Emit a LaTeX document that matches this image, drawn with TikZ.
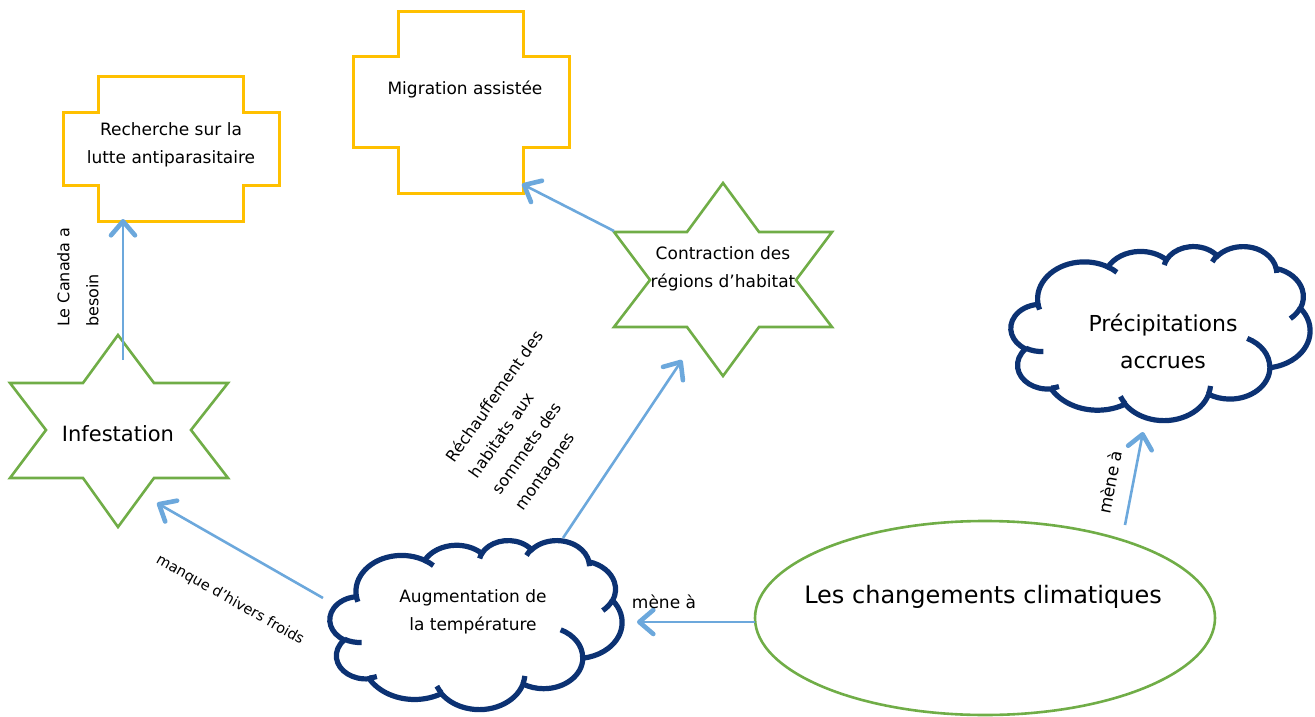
\documentclass[tikz,border=0pt]{standalone}
\usepackage{fontspec}
\setmainfont{DejaVu Sans}
\usetikzlibrary{arrows.meta,shapes.geometric}
\definecolor{crossyellow}{RGB}{255,192,0}
\definecolor{stargreen}{RGB}{112,173,71}
\definecolor{arrowblue}{RGB}{108,168,220}
\definecolor{cloudnavy}{RGB}{12,50,115}
\tikzset{
  declare function={vt(\w,\h,\t)=(\t)+(atan2((\w)*sin(\t),(\h)*cos(\t))-(\t))-360*round((atan2((\w)*sin(\t),(\h)*cos(\t))-(\t))/360);},
  oa/.style n args={4}{insert path={arc[start angle={vt(#1,#2,#3)},end angle={vt(#1,#2,#3+#4)},x radius=#1,y radius=#2]}},
  crossbox/.style={draw=crossyellow, line width=3pt, line join=miter},
  starbox/.style={draw=stargreen, line width=2.6pt, line join=miter},
  cloudline/.style={draw=cloudnavy, line width=5.2pt},
  ellbox/.style={draw=stargreen, line width=2.6pt, ellipse, inner sep=0pt},
  link/.style={draw=arrowblue, line width=2.6pt, -{Straight Barb[length=14pt,width=24pt,line width=4.6pt,round]}},
  txt/.style={align=center, inner sep=0pt, font=\fontsize{17}{28.5}\selectfont},
  lbl/.style={inner sep=0pt, font=\fontsize{17}{29}\selectfont},
}
\newcommand\oocloud[5]{%
  \pgfmathsetmacro\cloudxs{#4/432}%
  \pgfmathsetmacro\cloudys{#5/432}%
  \begin{scope}[shift={(#2,#3)}, x=\cloudxs pt, y=-\cloudys pt]
    \coordinate (#1) at (216,216);
    \draw[cloudline, fill=white] (39.00,143.70)
      [oa={67.53}{91.90}{-190.487}{123.781}]
      [oa={53.33}{72.67}{-144.102}{89.945}]
      [oa={43.65}{59.45}{-145.808}{99.723}]
      [oa={48.57}{65.95}{-130.986}{117.242}]
      [oa={53.33}{72.73}{-78.709}{109.027}]
      [oa={67.75}{92.20}{-46.267}{130.269}]
      [oa={57.85}{78.67}{0.625}{114.033}]
      [oa={67.52}{92.15}{22.452}{115.173}]
      [oa={77.20}{105.43}{66.243}{75.711}]
      [oa={43.60}{59.18}{-274.942}{146.736}]
      [oa={43.45}{59.45}{-246.829}{152.519}] -- cycle;
    \draw[cloudline]
      (46.93,261.77) [oa={43.45}{59.45}{86.742}{26.430}]
      (69.28,348.99) [oa={43.60}{59.18}{73.610}{11.447}]
      (164.78,390.90) [oa={67.52}{92.15}{137.624}{14.081}]
      (288.27,347.51) [oa={67.52}{92.15}{6.453}{15.998}]
      (341.29,229.54) [oa={57.85}{78.67}{-70.292}{70.917}]
      (417.98,153.54) [oa={53.33}{72.73}{30.318}{27.752}]
      (383.24,54.26) [oa={48.57}{65.95}{-13.744}{14.859}]
      (290.78,39.52) [oa={48.57}{65.95}{-149.181}{18.195}]
      (221.41,47.20) [oa={43.65}{59.45}{-163.494}{17.686}]
      (140.00,51.92) [oa={67.53}{91.90}{-66.707}{12.319}]
      (41.27,157.89) [oa={67.53}{91.90}{157.654}{11.858}];
  \end{scope}}
\begin{document}
\begin{tikzpicture}[x=1pt,y=-1pt]
\useasboundingbox (0,0) rectangle (1315,717);

% crosses
\draw[crossbox] (98,77) -- (243,77) -- (243,112) -- (279,112) -- (279,185) -- (243,185)
  -- (243,221) -- (98,221) -- (98,185) -- (63,185) -- (63,112) -- (98,112) -- cycle;
\node[txt] (rech) at (171,145) {Recherche sur la\\lutte antiparasitaire};

\draw[crossbox] (398,12) -- (523,12) -- (523,57) -- (569,57) -- (569,147) -- (523,147)
  -- (523,193) -- (398,193) -- (398,147) -- (353,147) -- (353,57) -- (398,57) -- cycle;
\node[txt] (migr) at (465,89) {Migration assistée};

% stars
\draw[starbox] (118,335) -- (154,383) -- (228,383) -- (191,430) -- (228,478) -- (154,478)
  -- (118,527) -- (83,478) -- (10,478) -- (46,430) -- (10,383) -- (83,383) -- cycle;
\node[txt, font=\fontsize{21}{28}\selectfont] (infest) at (118,434) {Infestation};

\draw[starbox] (723,183) -- (759,232) -- (832,232) -- (796,280) -- (832,327) -- (759,327)
  -- (723,376) -- (687,327) -- (614,327) -- (650,280) -- (614,232) -- (687,232) -- cycle;
\node[txt] (contr) at (723,269) {Contraction des\\régions d’habitat};

% clouds
\oocloud{augm-cloud}{330}{540}{292}{169}
\node[txt] (augm) at (473,612) {Augmentation de\\la température};

\oocloud{precip-cloud}{1011}{246}{299}{174}
\node[txt, font=\fontsize{22}{37}\selectfont] (precip) at (1163,341) {Précipitations\\accrues};

% ellipse
\node[ellbox, minimum width=460pt, minimum height=194pt] (clim-shape) at (985,618) {};
\node[txt, font=\fontsize{24}{30}\selectfont] (clim) at (983,597) {Les changements climatiques};

% connector ends
\coordinate (infest-out) at (123,360);
\coordinate (rech-in) at (123,219);
\coordinate (contr-out) at (614,231);
\coordinate (migr-in) at (522,184);
\coordinate (augm-up) at (563,538);
\coordinate (contr-in) at (682,360);
\coordinate (augm-left) at (323,598);
\coordinate (infest-in) at (157,503);
\coordinate (clim-left) at (755,622);
\coordinate (augm-right) at (637,622);
\coordinate (clim-up) at (1125,525);
\coordinate (precip-in) at (1143,432);

\draw[link] (infest-out) -- (rech-in);
\draw[link] (contr-out) -- (migr-in);
\draw[link] (augm-up) -- (contr-in);
\draw[link] (augm-left) -- (infest-in);
\draw[link] (clim-left) -- (augm-right);
\draw[link] (clim-up) -- (precip-in);

% labels
\node[lbl, rotate=90, align=left, font=\fontsize{16}{29}\selectfont] (lbl-canada) at (78,277) {Le Canada a\\besoin};
\node[lbl, rotate=-29.5, font=\fontsize{14.5}{20}\selectfont] (lbl-hivers) at (230,600) {manque d'hivers froids};
\node[lbl, rotate=55, align=left, font=\fontsize{16}{28}\selectfont] (lbl-rechauff) at (530,421) {Réchauffement des\\habitats aux\\sommets des\\montagnes};
\node[lbl] (lbl-mene1) at (664,602) {mène à};
\node[lbl, rotate=79] (lbl-mene2) at (1110,482) {mène à};
\end{tikzpicture}
\end{document}
